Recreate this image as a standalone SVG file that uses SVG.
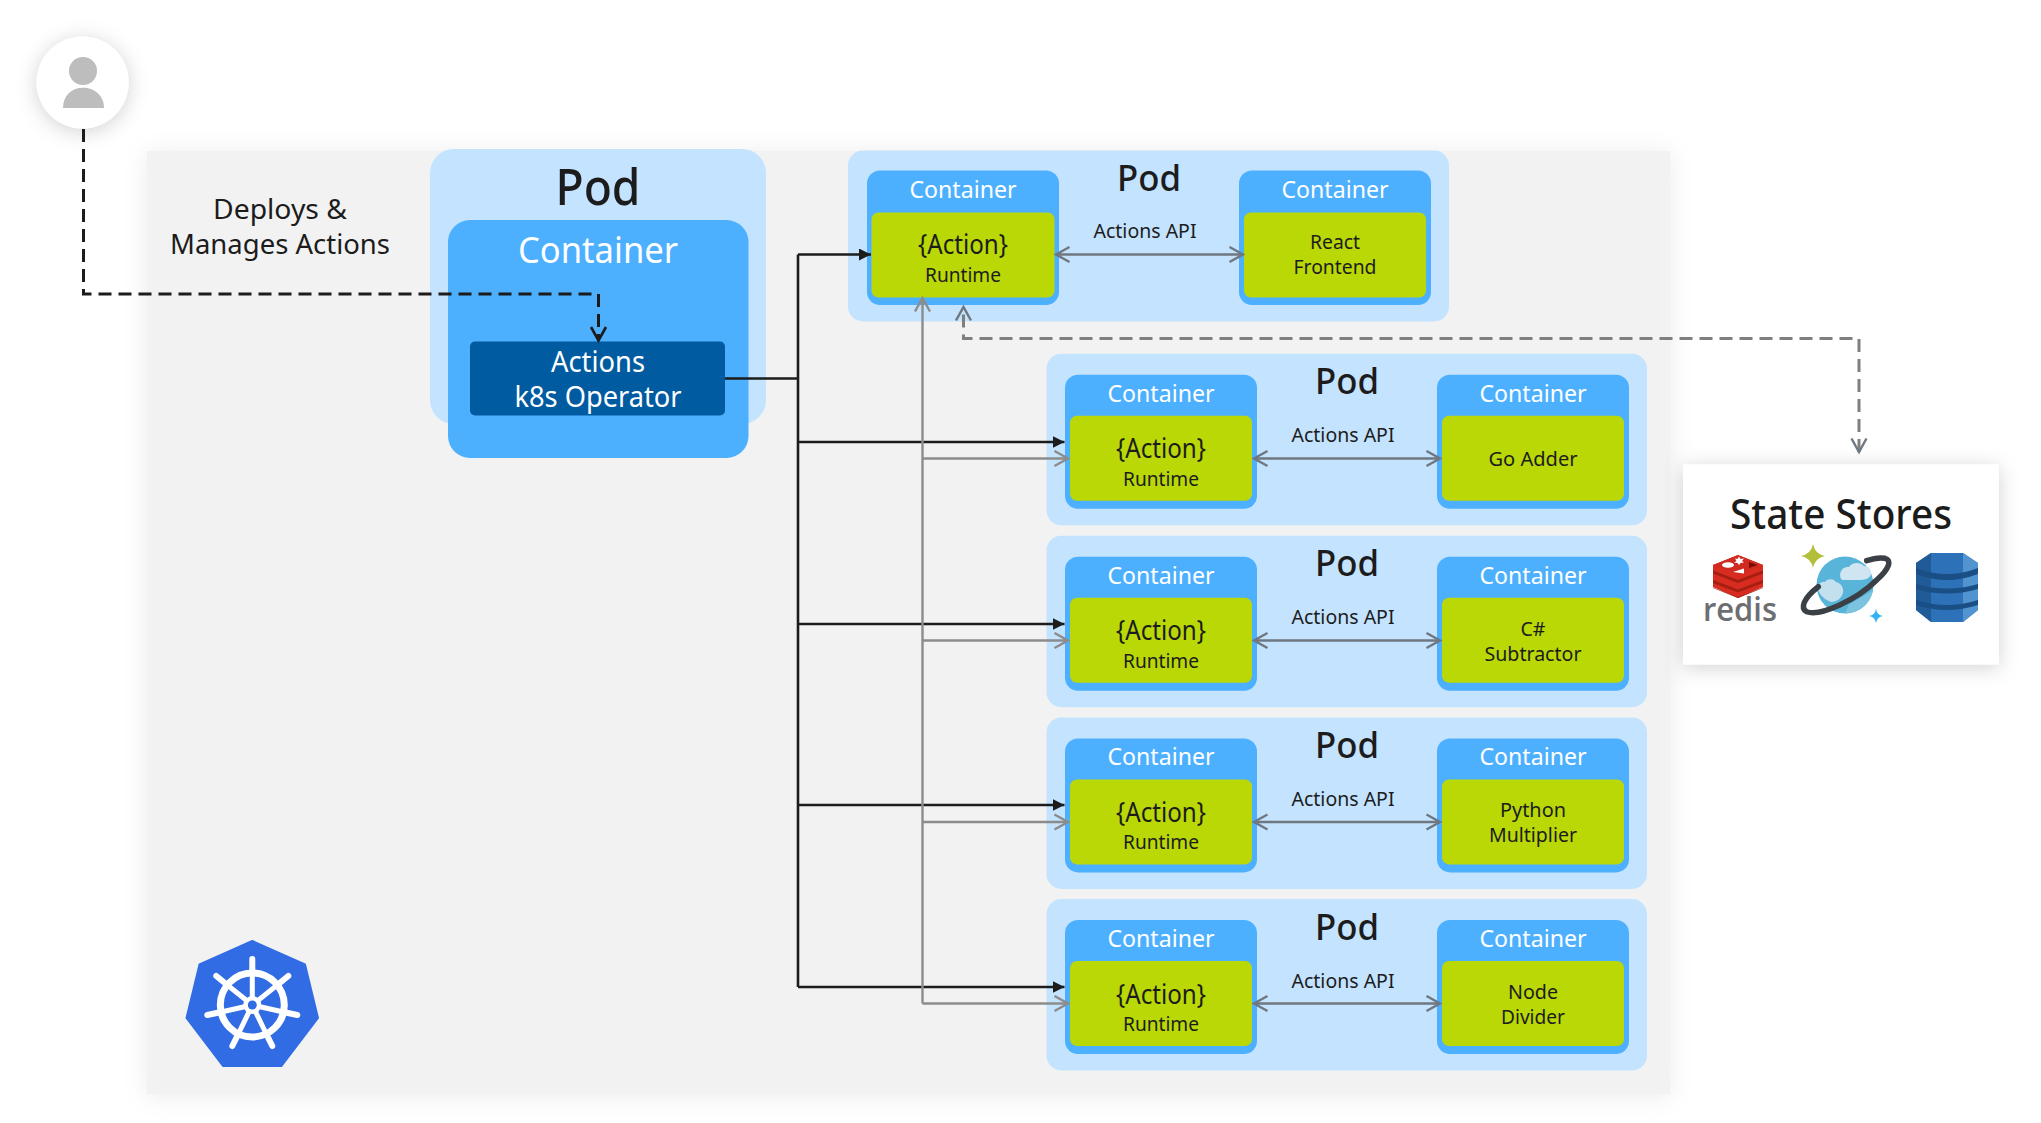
<svg xmlns="http://www.w3.org/2000/svg" width="2041" height="1123" viewBox="0 0 2041 1123">
<style>
text{font-family:"Noto Sans","Open Sans","Liberation Sans",sans-serif;text-anchor:middle;fill:#1c1c1c}
.pod{fill:#c3e3fe}.ctr{fill:#4db0ff}.grn{fill:#b9d806}
.w{fill:#fff}
.t24{font-size:23px}.t21{font-size:20px}.t27{font-size:28px}.t38{font-size:37px;font-weight:500}.t28{font-size:27px}
.arr{fill:none;stroke:#6f7780;stroke-width:2.4;marker-start:url(#open);marker-end:url(#open)}
.blk{fill:none;stroke:#1c1c1c;stroke-width:2.6}
.gry{fill:none;stroke:#8c8c8c;stroke-width:2.4}
</style>
<defs>
<filter id="sh" x="-20%" y="-20%" width="140%" height="140%"><feDropShadow dx="0" dy="2" stdDeviation="12" flood-color="#000" flood-opacity=".08"/></filter>
<filter id="sh2" x="-50%" y="-50%" width="200%" height="200%"><feDropShadow dx="0" dy="3" stdDeviation="10" flood-color="#000" flood-opacity=".18"/></filter>
<marker id="open" markerUnits="userSpaceOnUse" markerWidth="18" markerHeight="20" refX="15" refY="9" orient="auto-start-reverse"><path d="M1.5 1.5L15 9L1.5 16.5" fill="none" stroke="#6f7780" stroke-width="2.4"/></marker>
<marker id="openg" markerUnits="userSpaceOnUse" markerWidth="18" markerHeight="20" refX="15" refY="9" orient="auto"><path d="M1.5 1.5L15 9L1.5 16.5" fill="none" stroke="#8c8c8c" stroke-width="2.4"/></marker>
<marker id="openk" markerUnits="userSpaceOnUse" markerWidth="18" markerHeight="20" refX="15" refY="9" orient="auto"><path d="M1.5 1.5L15 9L1.5 16.5" fill="none" stroke="#1c1c1c" stroke-width="2.6"/></marker>
<marker id="solid" markerUnits="userSpaceOnUse" markerWidth="14" markerHeight="14" refX="12" refY="6" orient="auto"><path d="M0 0L12 6L0 12Z" fill="#1c1c1c"/></marker>
</defs>

<rect id="cluster" x="147" y="151" width="1523" height="943" fill="#f2f2f2" filter="url(#sh)"/>

<g id="user">
<circle cx="82.6" cy="82.4" r="46" fill="#fff" filter="url(#sh2)"/>
<ellipse cx="83" cy="71" rx="14" ry="14" fill="#bdbdbd"/>
<path d="M63 108C63 95 72 87.7 83 87.7C94 87.7 104 95 104 108Z" fill="#bdbdbd"/>
</g>

<text x="280" y="219" class="t28" textLength="134" lengthAdjust="spacingAndGlyphs">Deploys &amp;</text>
<text x="280" y="254" class="t28" textLength="220" lengthAdjust="spacingAndGlyphs">Manages Actions</text>

<g id="operator-pod">
<rect x="430" y="149" width="336" height="275" rx="24" class="pod"/>
<rect x="448" y="220" width="300.500" height="238" rx="22" class="ctr"/>
<text x="598" y="205" font-size="51" font-weight="500" textLength="85" lengthAdjust="spacingAndGlyphs">Pod</text>
<text x="598" y="263" font-size="36" style="fill:#fff" textLength="160" lengthAdjust="spacingAndGlyphs">Container</text>
<rect x="470" y="341.500" width="255" height="74" rx="5" fill="#005ba1"/>
<text x="598" y="372" font-size="29" style="fill:#fff" textLength="94" lengthAdjust="spacingAndGlyphs">Actions</text>
<text x="598" y="407" font-size="29" style="fill:#fff" textLength="167" lengthAdjust="spacingAndGlyphs">k8s Operator</text>
</g>

<g id="pod-react">
<rect x="848" y="150.500" width="601" height="171" rx="15" class="pod"/>
<rect x="867" y="170.500" width="192" height="134.500" rx="13" class="ctr"/>
<rect x="871.500" y="212.500" width="183" height="85" rx="7" class="grn"/>
<text x="963" y="198" class="t24" style="fill:#fff" textLength="107" lengthAdjust="spacingAndGlyphs">Container</text>
<text x="963" y="254" class="t27" textLength="90" lengthAdjust="spacingAndGlyphs">{Action}</text>
<text x="963" y="282" class="t21" textLength="76" lengthAdjust="spacingAndGlyphs">Runtime</text>
<text x="1149" y="190.500" class="t38" textLength="64" lengthAdjust="spacingAndGlyphs">Pod</text>
<text x="1145" y="238" class="t21" textLength="103" lengthAdjust="spacingAndGlyphs">Actions API</text>
<rect x="1239" y="170.500" width="192" height="134.500" rx="13" class="ctr"/>
<rect x="1244" y="212.500" width="182" height="85" rx="7" class="grn"/>
<text x="1335" y="198" class="t24" style="fill:#fff" textLength="107" lengthAdjust="spacingAndGlyphs">Container</text>
<text x="1335" y="249" class="t21" textLength="50" lengthAdjust="spacingAndGlyphs">React</text>
<text x="1335" y="274" class="t21" textLength="83" lengthAdjust="spacingAndGlyphs">Frontend</text>
</g>

<g id="pod-go" transform="translate(0 353.800)">
<rect x="1046.500" y="0" width="600.500" height="171.500" rx="15" class="pod"/>
<rect x="1065" y="21" width="192" height="134" rx="13" class="ctr"/>
<rect x="1070" y="62" width="182" height="85" rx="7" class="grn"/>
<text x="1161" y="48" class="t24" style="fill:#fff" textLength="107" lengthAdjust="spacingAndGlyphs">Container</text>
<text x="1161" y="104.500" class="t27" textLength="90" lengthAdjust="spacingAndGlyphs">{Action}</text>
<text x="1161" y="132" class="t21" textLength="76" lengthAdjust="spacingAndGlyphs">Runtime</text>
<text x="1347" y="40.500" class="t38" textLength="64" lengthAdjust="spacingAndGlyphs">Pod</text>
<text x="1343" y="88.500" class="t21" textLength="103" lengthAdjust="spacingAndGlyphs">Actions API</text>
<rect x="1437" y="21" width="192" height="134" rx="13" class="ctr"/>
<rect x="1442" y="62" width="182" height="85" rx="7" class="grn"/>
<text x="1533" y="48" class="t24" style="fill:#fff" textLength="107" lengthAdjust="spacingAndGlyphs">Container</text>
<text x="1533" y="112" class="t21" textLength="89" lengthAdjust="spacingAndGlyphs">Go Adder</text>
</g>

<g id="pod-csharp" transform="translate(0 535.700)">
<rect x="1046.500" y="0" width="600.500" height="171.500" rx="15" class="pod"/>
<rect x="1065" y="21" width="192" height="134" rx="13" class="ctr"/>
<rect x="1070" y="62" width="182" height="85" rx="7" class="grn"/>
<text x="1161" y="48" class="t24" style="fill:#fff" textLength="107" lengthAdjust="spacingAndGlyphs">Container</text>
<text x="1161" y="104.500" class="t27" textLength="90" lengthAdjust="spacingAndGlyphs">{Action}</text>
<text x="1161" y="132" class="t21" textLength="76" lengthAdjust="spacingAndGlyphs">Runtime</text>
<text x="1347" y="40.500" class="t38" textLength="64" lengthAdjust="spacingAndGlyphs">Pod</text>
<text x="1343" y="88.500" class="t21" textLength="103" lengthAdjust="spacingAndGlyphs">Actions API</text>
<rect x="1437" y="21" width="192" height="134" rx="13" class="ctr"/>
<rect x="1442" y="62" width="182" height="85" rx="7" class="grn"/>
<text x="1533" y="48" class="t24" style="fill:#fff" textLength="107" lengthAdjust="spacingAndGlyphs">Container</text>
<text x="1533" y="100" class="t21" textLength="25" lengthAdjust="spacingAndGlyphs">C#</text>
<text x="1533" y="125" class="t21" textLength="97" lengthAdjust="spacingAndGlyphs">Subtractor</text>
</g>

<g id="pod-python" transform="translate(0 717.400)">
<rect x="1046.500" y="0" width="600.500" height="171.500" rx="15" class="pod"/>
<rect x="1065" y="21" width="192" height="134" rx="13" class="ctr"/>
<rect x="1070" y="62" width="182" height="85" rx="7" class="grn"/>
<text x="1161" y="48" class="t24" style="fill:#fff" textLength="107" lengthAdjust="spacingAndGlyphs">Container</text>
<text x="1161" y="104.500" class="t27" textLength="90" lengthAdjust="spacingAndGlyphs">{Action}</text>
<text x="1161" y="132" class="t21" textLength="76" lengthAdjust="spacingAndGlyphs">Runtime</text>
<text x="1347" y="40.500" class="t38" textLength="64" lengthAdjust="spacingAndGlyphs">Pod</text>
<text x="1343" y="88.500" class="t21" textLength="103" lengthAdjust="spacingAndGlyphs">Actions API</text>
<rect x="1437" y="21" width="192" height="134" rx="13" class="ctr"/>
<rect x="1442" y="62" width="182" height="85" rx="7" class="grn"/>
<text x="1533" y="48" class="t24" style="fill:#fff" textLength="107" lengthAdjust="spacingAndGlyphs">Container</text>
<text x="1533" y="100" class="t21" textLength="66" lengthAdjust="spacingAndGlyphs">Python</text>
<text x="1533" y="125" class="t21" textLength="88" lengthAdjust="spacingAndGlyphs">Multiplier</text>
</g>

<g id="pod-node" transform="translate(0 899)">
<rect x="1046.500" y="0" width="600.500" height="171.500" rx="15" class="pod"/>
<rect x="1065" y="21" width="192" height="134" rx="13" class="ctr"/>
<rect x="1070" y="62" width="182" height="85" rx="7" class="grn"/>
<text x="1161" y="48" class="t24" style="fill:#fff" textLength="107" lengthAdjust="spacingAndGlyphs">Container</text>
<text x="1161" y="104.500" class="t27" textLength="90" lengthAdjust="spacingAndGlyphs">{Action}</text>
<text x="1161" y="132" class="t21" textLength="76" lengthAdjust="spacingAndGlyphs">Runtime</text>
<text x="1347" y="40.500" class="t38" textLength="64" lengthAdjust="spacingAndGlyphs">Pod</text>
<text x="1343" y="88.500" class="t21" textLength="103" lengthAdjust="spacingAndGlyphs">Actions API</text>
<rect x="1437" y="21" width="192" height="134" rx="13" class="ctr"/>
<rect x="1442" y="62" width="182" height="85" rx="7" class="grn"/>
<text x="1533" y="48" class="t24" style="fill:#fff" textLength="107" lengthAdjust="spacingAndGlyphs">Container</text>
<text x="1533" y="100" class="t21" textLength="50" lengthAdjust="spacingAndGlyphs">Node</text>
<text x="1533" y="125" class="t21" textLength="64" lengthAdjust="spacingAndGlyphs">Divider</text>
</g>

<g id="state-stores">
<rect x="1683" y="464.500" width="316" height="200" fill="#fff" filter="url(#sh2)"/>
<text x="1841" y="529" font-size="41" font-weight="500" textLength="222" lengthAdjust="spacingAndGlyphs">State Stores</text>
<g id="redis">
<path d="M1713 565L1738 555L1763 565V587L1738 598L1713 587Z" fill="#d82c20"/>
<path d="M1713 570.500L1738 580L1763 570.500V573.500L1738 583L1713 573.500ZM1713 580L1738 589.500L1763 580V583L1738 592.500L1713 583ZM1713 587.500L1738 597L1763 587.500V588L1738 598L1713 588Z" fill="#a41e11"/>
<path d="M1713 565L1738 555L1763 565L1738 574.500Z" fill="#cf2b20"/>
<ellipse cx="1728" cy="565" rx="6" ry="2.800" fill="#fff"/>
<path d="M1739 556.500l1.500 2.500 3.500-.5-2 2.500 2 1.500-3.500 .5-1.500 2-1.500-2-3.500-.5 2.500-1.500-1.500-2.500 2.500.5z" fill="#fff"/>
<path d="M1733 572l11-3.500v5z" fill="#fff"/>
<path d="M1749 562l8.500 3-8.500 3z" fill="#7a0c00"/>
<text x="1740" y="621" font-size="33" font-weight="600" textLength="74" lengthAdjust="spacingAndGlyphs" style="font-family:'Open Sans','Noto Sans',sans-serif;fill:#6d6e71">redis</text>
</g>
<g id="cosmos">
<circle cx="1845" cy="585" r="28.500" fill="#59b4d9"/>
<path d="M1845 613.500a28.500 28.500 0 0 0 28-23l-24 14z" fill="#7cc3e0"/>
<path d="M1841 579c-3-7 2-13 8-12c3-5 11-5 15-1c5 0 8 4 7 8c-1 5-7 6-12 6h-14c-2 0-3 0-4-1z" fill="#cfe5f1"/>
<path d="M1818 590c-2-5 3-9 7-8c3-4 9-3 11 0c5 1 8 6 7 11c-2 6-7 9-12 9c-6-2-11-7-13-12z" fill="#c3e0ee"/>
<path d="M1818.300 586.700C1803.300 598.300 1800 608.300 1806.700 611.700C1820 616.700 1856.700 600 1876.700 580C1890 568.300 1891.700 560 1885 558.300C1880 557.300 1873.300 558.300 1866.700 560.700" fill="none" stroke="#3a4045" stroke-width="5.500" stroke-linecap="round"/>
<path d="M1813 544q2 10 12 12q-10 2-12 12q-2-10-12-12q10-2 12-12z" fill="#b3bf3a"/>
<path d="M1876 609q1 6 7 7q-6 1-7 7q-1-6-7-7q6-1 7-7z" fill="#35b3f0"/>
</g>
<g id="dynamodb">
<path d="M1931 553h32l15 10v47l-15 12h-32l-15-12v-47z" fill="#2d72b8"/>
<path d="M1931 553v69l-15-12v-47z" fill="#205b98"/>
<path d="M1963 553v69l15-12v-47z" fill="#5294cf"/>
<path d="M1916 568q31 12 62 0v6q-31 12-62 0zM1916 584q31 9 62 0v5q-31 9-62 0zM1916 600q31 10 62 0v5q-31 10-62 0z" fill="#1a4f85"/>
</g>
</g>

<g id="k8s-logo">
<path d="M252.300 941L305 964.500L318 1018L281.500 1066L223 1066L186.500 1018L199.500 964.500Z" fill="#326ce5" stroke="#326ce5" stroke-width="2" stroke-linejoin="round"/>
<circle cx="252.300" cy="1005" r="32" fill="none" stroke="#fff" stroke-width="7"/>
<g stroke="#fff" stroke-linecap="round" transform="translate(252.300 1005)">
<g stroke-width="6"><path d="M0-32V-46M25-20L36-29M31 7L45 10M14 29L20 41M-14 29L-20 41M-31 7L-45 10M-25-20L-36-29"/></g>
<g stroke-width="5"><path d="M0 0V-32M0 0L25-20M0 0L31 7M0 0L14 29M0 0L-14 29M0 0L-31 7M0 0L-25-20"/></g>
</g>
<circle cx="252.300" cy="1005" r="9" fill="#fff"/>
<circle cx="252.300" cy="1005" r="4.500" fill="#326ce5"/>
</g>

<g id="connectors">
<path d="M83.500 129V294H598.500V340.500" fill="none" stroke="#1c1c1c" stroke-width="3" stroke-dasharray="13 7" marker-end="url(#openk)"/>
<path d="M725 378.500H798" class="blk"/>
<path d="M798 254.500V987" class="blk"/>
<path d="M798 254.500H871" class="blk" marker-end="url(#solid)"/>
<path d="M798 442H1064.500" class="blk" marker-end="url(#solid)"/>
<path d="M798 624H1064.500" class="blk" marker-end="url(#solid)"/>
<path d="M798 805H1064.500" class="blk" marker-end="url(#solid)"/>
<path d="M798 987H1064.500" class="blk" marker-end="url(#solid)"/>
<path d="M922.500 1003.500V298" class="gry" marker-end="url(#openg)"/>
<path d="M922.500 458.500H1068" class="gry" marker-end="url(#openg)"/>
<path d="M922.500 640.500H1068" class="gry" marker-end="url(#openg)"/>
<path d="M922.500 822H1068" class="gry" marker-end="url(#openg)"/>
<path d="M922.500 1003.500H1068" class="gry" marker-end="url(#openg)"/>
<path d="M1859 452V338.500H963.500V307" fill="none" stroke="#7f7f7f" stroke-width="3" stroke-dasharray="13 7" marker-start="url(#open)" marker-end="url(#open)"/>
<path d="M1056 254.500H1243" class="arr"/>
<path d="M1254 458.500H1440" class="arr"/>
<path d="M1254 640.500H1440" class="arr"/>
<path d="M1254 822H1440" class="arr"/>
<path d="M1254 1003.500H1440" class="arr"/>
</g>
</svg>
